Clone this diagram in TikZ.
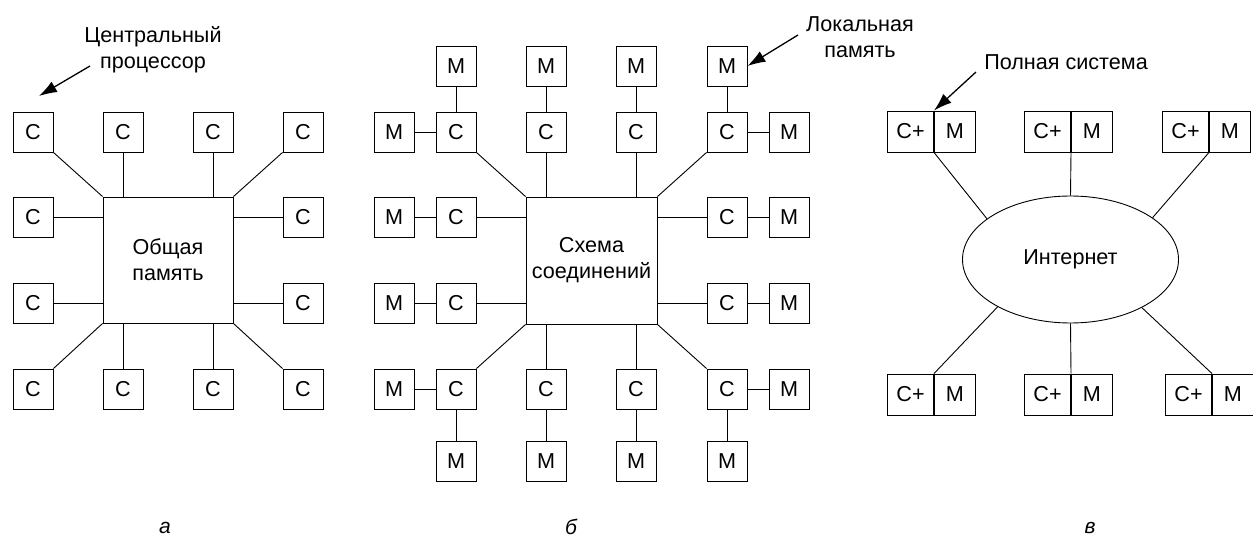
\documentclass[tikz,border=0pt]{standalone}
\usepackage{fontspec}
\setmainfont{Liberation Sans}
\usetikzlibrary{arrows.meta,shapes.geometric}
\begin{document}
\begin{tikzpicture}[x=1pt,y=-1pt,
  txt/.style={font=\fontsize{21.6}{26}\selectfont},
  box/.style={draw,line width=0.9pt,minimum width=40pt,minimum height=40pt,inner sep=0pt,txt},
  conn/.style={line width=0.9pt},
  ptr/.style={line width=1.3pt,-{Latex[length=18pt,width=12pt]}},
  sublabel/.style={font=\fontsize{21}{24}\selectfont\itshape}
]
\useasboundingbox (0,0) rectangle (1253,537);

% ---------- panel a ----------
\node[box,minimum width=130pt,minimum height=126pt,align=center] (ca) at (168,260) {Общая\\память};
\foreach \x [count=\i] in {33,123,213,303} {
  \node[box] (at\i) at (\x,132) {С};
  \node[box] (ab\i) at (\x,389) {С};
}
\foreach \y [count=\i] in {217,303} {
  \node[box] (al\i) at (33,\y) {С};
  \node[box] (ar\i) at (303,\y) {С};
}
\draw[conn] (at1.south east) -- (ca.north west);
\draw[conn] (at4.south west) -- (ca.north east);
\draw[conn] (ab1.north east) -- (ca.south west);
\draw[conn] (ab4.north west) -- (ca.south east);
\foreach \i in {2,3} {
  \draw[conn] (at\i.south) -- (at\i.south |- ca.north);
  \draw[conn] (ab\i.north) -- (ab\i.north |- ca.south);
}
\foreach \i in {1,2} {
  \draw[conn] (al\i.east) -- (al\i.east -| ca.west);
  \draw[conn] (ar\i.west) -- (ar\i.west -| ca.east);
}
\node[txt,align=center] (lcpu) at (153,50) {Центральный\\процессор};
\coordinate (lcpus) at (90,66);
\coordinate (lcpue) at (39,96);
\draw[ptr] (lcpus) -- (lcpue);
\node[sublabel] (capa) at (165,528) {а};

% ---------- panel b ----------
\node[box,minimum width=131pt,minimum height=127pt,align=center] (cb) at (591.5,260.5) {Схема\\соединений};
\foreach \x [count=\i] in {456,546,636,727} {
  \node[box] (bt\i) at (\x,132) {С};
  \node[box] (bb\i) at (\x,389) {С};
  \node[box] (mt\i) at (\x,66) {М};
  \node[box] (mb\i) at (\x,461) {М};
  \draw[conn] (mt\i) -- (bt\i);
  \draw[conn] (bb\i) -- (mb\i);
}
\foreach \y [count=\i] in {217,303} {
  \node[box] (bl\i) at (456,\y) {С};
  \node[box] (br\i) at (727,\y) {С};
}
\foreach \n [count=\i] in {bt1,bl1,bl2,bb1} {
  \node[box] (ml\i) at (394,0 |- \n) {М};
  \draw[conn] (ml\i) -- (\n);
}
\foreach \n [count=\i] in {bt4,br1,br2,bb4} {
  \node[box] (mr\i) at (789,0 |- \n) {М};
  \draw[conn] (\n) -- (mr\i);
}
\draw[conn] (bt1.south east) -- (cb.north west);
\draw[conn] (bt4.south west) -- (cb.north east);
\draw[conn] (bb1.north east) -- (cb.south west);
\draw[conn] (bb4.north west) -- (cb.south east);
\foreach \i in {2,3} {
  \draw[conn] (bt\i.south) -- (bt\i.south |- cb.north);
  \draw[conn] (bb\i.north) -- (bb\i.north |- cb.south);
}
\foreach \i in {1,2} {
  \draw[conn] (bl\i.east) -- (bl\i.east -| cb.west);
  \draw[conn] (br\i.west) -- (br\i.west -| cb.east);
}
\node[txt,align=center] (lmem) at (860,37) {Локальная\\память};
\coordinate (lmems) at (798,35);
\draw[ptr] (lmems) -- (mt4.east);
\node[sublabel] (capb) at (571,527) {б};

% ---------- panel c ----------
\node[draw,ellipse,line width=0.9pt,minimum width=216pt,minimum height=127pt,inner sep=0pt,txt] (net) at (1070.5,259.5) {Интернет};
\foreach \x/\y [count=\i] in {934/131.5,1071/131.5,1209/131.5,934/394.5,1071/394.5,1212/394.5} {
  \node[box,minimum width=46pt,minimum height=41pt,anchor=east] (cp\i) at (\x,\y) {С+};
  \node[box,minimum width=41pt,minimum height=41pt,anchor=west] (mp\i) at (\x,\y) {М};
}
\draw[conn] (mp1.south west) -- (net.154);
\draw[conn] (mp2.south west) -- (net.north);
\draw[conn] (mp3.south west) -- (net.27.5);
\draw[conn] (net.213.8) -- (mp4.north west);
\draw[conn] (net.south) -- (mp5.north west);
\draw[conn] (net.326.2) -- (mp6.north west);
\node[txt] (lsys) at (1066,62) {Полная система};
\coordinate (lsyss) at (976,72);
\draw[ptr] (lsyss) -- (mp1.north west);
\node[sublabel] (capc) at (1090,528) {в};
\end{tikzpicture}
\end{document}
